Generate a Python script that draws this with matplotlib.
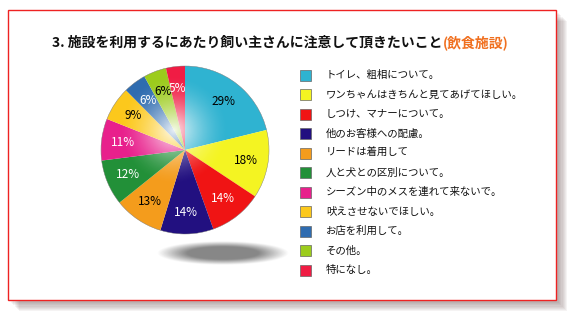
import matplotlib
import matplotlib.pyplot as plt
import numpy as np
from matplotlib.patches import Circle, Rectangle

matplotlib.use('Agg')

plt.rcParams['font.family'] = ['Noto Sans CJK JP', 'DejaVu Sans']

# chart data
TITLE_MAIN = "3. 施設を利用するにあたり飼い主さんに注意して頂きたいこと"
TITLE_SUB = "(飲食施設)"
categories = [
    "トイレ、粗相について。",
    "ワンちゃんはきちんと見てあげてほしい。",
    "しつけ、マナーについて。",
    "他のお客様への配慮。",
    "リードは着用して",
    "人と犬との区別について。",
    "シーズン中のメスを連れて来ないで。",
    "吠えさせないでほしい。",
    "お店を利用して。",
    "その他。",
    "特になし。",
]
values = [29, 18, 14, 14, 13, 12, 11, 9, 6, 6, 5]
colors = ["#2fb3d1", "#f4f422", "#f01414", "#221080", "#f49c1c", "#229038",
          "#e8208c", "#fcc81c", "#2f6cb0", "#9ccc1c", "#f01c44"]
label_colors = ["black", "black", "white", "white", "black", "white",
                "white", "black", "white", "black", "white"]

W, H = 575, 330


def main() -> None:
    fig = plt.figure(figsize=(W / 100, H / 100), dpi=100)
    ax = fig.add_axes([0, 0, 1, 1])

    # frame shadow (soft, offset to lower right)
    for i in range(8):
        off = 3 + i * 1.2
        ax.add_patch(Rectangle((8 + off, 30 - off), 548, 290,
                               facecolor="#5a3a3a", edgecolor="none",
                               alpha=0.06, zorder=0))
    ax.add_patch(Rectangle((8, 30), 548, 290, facecolor="white",
                           edgecolor="#ee2222", linewidth=1.0, zorder=1))

    # title: black part, then the orange part right after it
    t1 = ax.text(52, 287, TITLE_MAIN, fontsize=10.0, fontweight="bold",
                 color="#111111", ha="left", va="center", zorder=5)
    ax.annotate(TITLE_SUB, xy=(1, 0.5), xycoords=t1, fontsize=10.0,
                fontweight="bold", color="#f07020", ha="left", va="center",
                zorder=5)

    # ground shadow under the pie
    sx, sy, rx, ry = 223, 77, 66, 12
    gx = np.linspace(sx - rx, sx + rx, 200)
    gy = np.linspace(sy - ry, sy + ry, 60)
    XX, YY = np.meshgrid(gx, gy)
    d = np.sqrt(((XX - sx) / rx) ** 2 + ((YY - sy) / ry) ** 2)
    img = np.zeros(XX.shape + (4,))
    img[..., :3] = 0.45
    img[..., 3] = np.clip((1 - d) * 2.2, 0, 1) * 0.85
    ax.imshow(img, extent=(sx - rx, sx + rx, sy - ry, sy + ry),
              origin="lower", zorder=2, interpolation="bilinear")

    # pie
    cx, cy, r = 185, 180, 84
    wedges, texts = ax.pie(
        values, colors=colors, startangle=90, counterclock=False,
        center=(cx, cy), radius=r, frame=True,
        labels=[f"{v}%" for v in values], labeldistance=0.74,
        wedgeprops=dict(linewidth=0, zorder=3),
        textprops=dict(fontsize=8.5, zorder=6),
    )
    for txt, c in zip(texts, label_colors):
        txt.set_color(c)
        txt.set_ha("center")
        txt.set_va("center")
        txt.set_zorder(6)

    # glossy highlight
    hx, hy = 174, 200
    px = np.linspace(cx - r, cx + r, 300)
    py = np.linspace(cy - r, cy + r, 300)
    PX, PY = np.meshgrid(px, py)
    dist = np.sqrt((PX - hx) ** 2 + (PY - hy) ** 2) / 55
    glow = np.zeros(PX.shape + (4,))
    glow[..., :3] = 1.0
    glow[..., 3] = np.clip(1 - dist, 0, 1) ** 1.6 * 0.9
    im = ax.imshow(glow, extent=(cx - r, cx + r, cy - r, cy + r),
                   origin="lower", zorder=4, interpolation="bilinear")
    clip = Circle((cx, cy), r, transform=ax.transData)
    im.set_clip_path(clip)
    ax.add_patch(Circle((cx, cy), r, facecolor="none",
                        edgecolor="#777777", linewidth=0.3, zorder=5))

    # legend
    y0, step = 255, 19.5
    for i, (name, c) in enumerate(zip(categories, colors)):
        y = y0 - i * step
        ax.add_patch(Rectangle((300, y - 5.5), 11, 11, facecolor=c,
                               edgecolor="#666666", linewidth=0.5, zorder=5))
        ax.text(326, y, name, fontsize=7.5, color="#111111",
                ha="left", va="center", zorder=5)

    ax.set_xlim(0, W)
    ax.set_ylim(0, H)
    ax.set_aspect("equal")
    ax.axis("off")

    fig.savefig("out.png", dpi=100, facecolor="white")
    plt.close(fig)


if __name__ == "__main__":
    main()
